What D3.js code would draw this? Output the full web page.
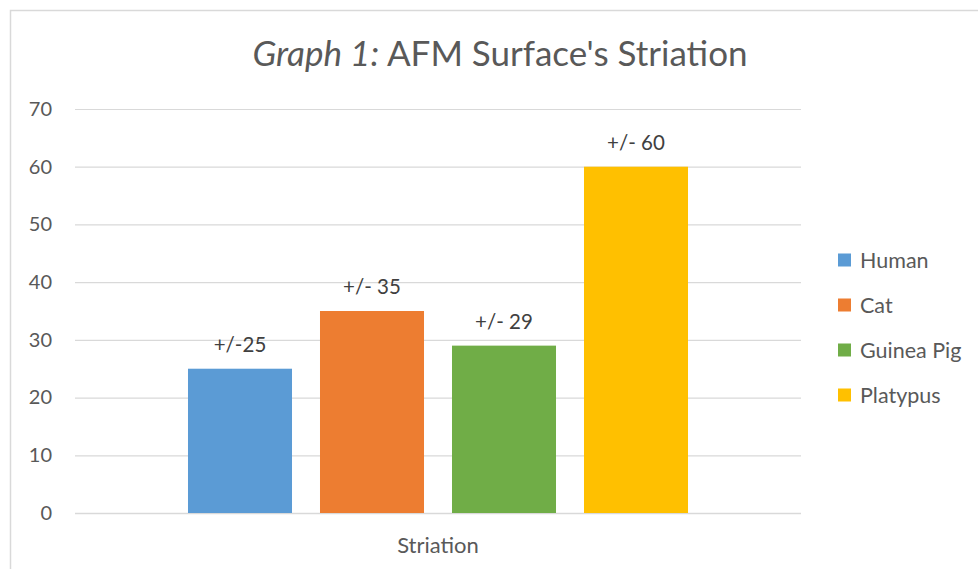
<!DOCTYPE html>
<html><head><meta charset="utf-8">
<script src="https://cdn.jsdelivr.net/npm/d3@7"></script>
<style>body{margin:0;background:#fff;}svg{display:block;font-family:Lato,"Open Sans",sans-serif;}</style>
</head><body><svg id="c" width="978" height="569"></svg>
<script>
(function(){
const categories = ["Striation"];
const seriesNames = ["Human", "Cat", "Guinea Pig", "Platypus"];
const seriesValues = [25, 35, 29, 60];
const dataLabels = ["+/-25", "+/- 35", "+/- 29", "+/- 60"];
const seriesColors = ["#5b9bd5", "#ed7d31", "#70ad47", "#ffc000"];
const yTicks = [0, 10, 20, 30, 40, 50, 60, 70];

const svg = d3.select("#c");
svg.append("rect").attr("x", 10.5).attr("y", 10.5).attr("width", 1000).attr("height", 600)
  .attr("fill", "#fff").attr("stroke", "#d9d9d9").attr("stroke-width", 1.5);

const pL = 75, pR = 801, pT = 109, pB = 513;
const y = d3.scaleLinear().domain([0, 70]).range([pB, pT]);
const x0 = d3.scaleBand().domain(categories).range([pL, pR]).padding(0);
const x1 = d3.scaleBand().domain(seriesNames).range([0, x0.bandwidth()]).paddingInner(0.212).paddingOuter(0.856);

svg.append("g").selectAll("line").data(yTicks).join("line")
  .attr("x1", pL).attr("x2", pR)
  .attr("y1", d => y(d) + 0.5).attr("y2", d => y(d) + 0.5)
  .attr("stroke", "#d9d9d9").attr("stroke-width", d => d === 0 ? 1.5 : 1.2);

const yAxis = d3.axisLeft(y).tickValues(yTicks).tickSize(0).tickPadding(0);
const ga = svg.append("g").attr("transform", `translate(52,0)`).call(yAxis);
ga.select(".domain").remove();
ga.selectAll("text").attr("font-size", 20).attr("fill", "#595959").attr("font-family", "Lato,'Open Sans',sans-serif");

const g = svg.append("g").attr("transform", `translate(${x0(categories[0])},0)`);
g.selectAll("rect").data(seriesNames).join("rect")
  .attr("x", d => x1(d)).attr("width", x1.bandwidth())
  .attr("y", (d, i) => y(seriesValues[i]))
  .attr("height", (d, i) => y(0) - y(seriesValues[i]))
  .attr("fill", (d, i) => seriesColors[i]);
g.selectAll("text").data(seriesNames).join("text")
  .attr("x", d => x1(d) + x1.bandwidth() / 2)
  .attr("y", (d, i) => y(seriesValues[i]) - 17)
  .attr("text-anchor", "middle").attr("font-size", 20.5).attr("fill", "#404040")
  .text((d, i) => dataLabels[i]);

svg.append("text").attr("x", x0(categories[0]) + x0.bandwidth() / 2).attr("y", 553)
  .attr("text-anchor", "middle").attr("font-size", 22).attr("fill", "#595959").text(categories[0]);

const t = svg.append("text").attr("x", 500).attr("y", 66).attr("text-anchor", "middle")
  .attr("font-size", 35).attr("fill", "#595959");
t.append("tspan").attr("font-style", "italic").text("Graph 1:");
t.append("tspan").text(" AFM Surface's Striation");

const lg = svg.append("g").selectAll("g").data(seriesNames).join("g")
  .attr("transform", (d, i) => `translate(838,${260 + i * 45})`);
lg.append("rect").attr("x", 0).attr("y", -6.5).attr("width", 13).attr("height", 13)
  .attr("fill", (d, i) => seriesColors[i]);
lg.append("text").attr("x", 22).attr("y", 0).attr("dy", "0.35em")
  .attr("font-size", 21.5).attr("fill", "#595959").text(d => d);
})();
</script></body></html>
